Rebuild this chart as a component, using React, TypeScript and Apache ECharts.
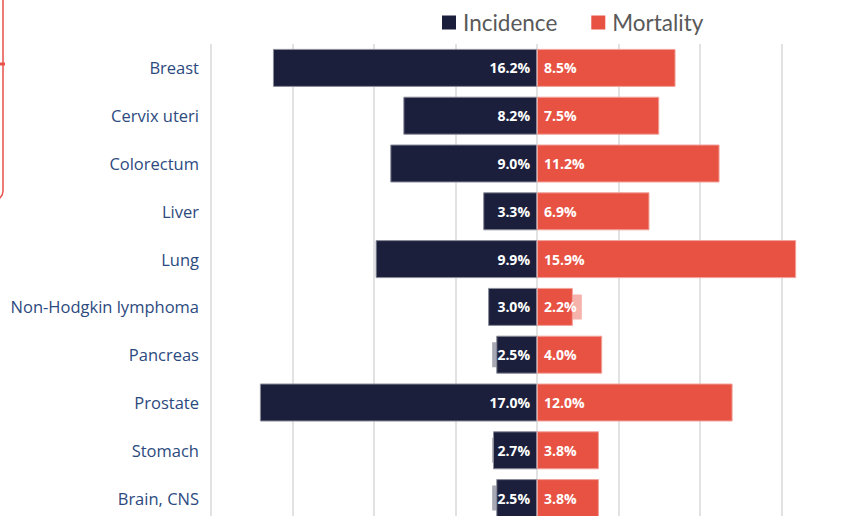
import React, { useEffect, useRef } from "react";
import * as echarts from "echarts";

const categories = [
  "Breast",
  "Cervix uteri",
  "Colorectum",
  "Liver",
  "Lung",
  "Non-Hodgkin lymphoma",
  "Pancreas",
  "Prostate",
  "Stomach",
  "Brain, CNS",
];
const incidence = [16.2, 8.2, 9.0, 3.3, 9.9, 3.0, 2.5, 17.0, 2.7, 2.5];
const mortality = [8.5, 7.5, 11.2, 6.9, 15.9, 2.2, 4.0, 12.0, 3.8, 3.8];
// faint background bars seen behind a few short bars
const ghostIncidence = [null, null, null, null, null, null, 2.75, null, 2.75, 2.75];
const ghostMortality = [null, null, null, null, null, 2.75, null, null, null, null];

const NAVY = "#1B1F3C";
const RED = "#E85243";

export default function App() {
  const ref = useRef<HTMLDivElement>(null);
  useEffect(() => {
    const chart = echarts.init(ref.current!, null, { renderer: "svg" });
    const labelFmt = (p: any) => Math.abs(p.value).toFixed(1) + "%";
    chart.setOption({
      animation: false,
      backgroundColor: "#ffffff",
      legend: {
        top: 6,
        left: 437,
        itemWidth: 14,
        itemHeight: 14,
        itemGap: 34,
        icon: "rect",
        itemStyle: { borderWidth: 0 },
        textStyle: { color: "#595959", fontSize: 22.5, fontFamily: "Lato", padding: [0, 0, 0, 2] },
        data: ["Incidence", "Mortality"],
      },
      grid: { left: 211, right: 17, top: 44, bottom: 8, containLabel: false },
      xAxis: {
        type: "value",
        min: -20,
        max: 20,
        interval: 5,
        axisLabel: { show: false },
        axisLine: { show: false },
        axisTick: { show: false },
        splitLine: { show: true, lineStyle: { color: "#D9D9D9", width: 1.5 } },
      },
      yAxis: [
        {
          type: "category",
          data: categories,
          inverse: true,
          axisLine: { show: false },
          axisTick: { show: false },
          axisLabel: {
            color: "#2C4A7E",
            fontSize: 16.5,
            fontFamily: "Open Sans",
            margin: 12,
          },
        },
        {
          type: "category",
          data: categories,
          inverse: true,
          show: false,
        },
      ],
      series: [
        {
          type: "bar",
          yAxisIndex: 1,
          data: ghostIncidence.map((v) => (v == null ? null : -v)),
          barWidth: 25,
          stack: "ghost",
          itemStyle: { color: "#A6A8B4" },
          silent: true,
          z: 1,
        },
        {
          type: "bar",
          yAxisIndex: 1,
          data: ghostMortality,
          barWidth: 25,
          stack: "ghost",
          itemStyle: { color: "#F5B3AC" },
          silent: true,
          z: 1,
        },
        {
          name: "Incidence",
          type: "bar",
          stack: "total",
          data: incidence.map((v) => -v),
          barWidth: 38,
          itemStyle: { color: NAVY, borderColor: "#8A8C99", borderWidth: 1 },
          label: {
            show: true,
            position: "insideRight",
            distance: 7,
            color: "#ffffff",
            fontWeight: "bold",
            fontSize: 14,
            fontFamily: "Open Sans",
            formatter: labelFmt,
          },
          z: 3,
        },
        {
          name: "Mortality",
          type: "bar",
          stack: "total",
          data: mortality,
          barWidth: 38,
          itemStyle: { color: RED, borderColor: "#F2A29A", borderWidth: 1 },
          label: {
            show: true,
            position: "insideLeft",
            distance: 7,
            color: "#ffffff",
            fontWeight: "bold",
            fontSize: 14,
            fontFamily: "Open Sans",
            formatter: labelFmt,
          },
          z: 3,
        },
      ],
      graphic: [
        {
          type: "rect",
          shape: { x: -300, y: -12, width: 303, height: 212, r: 9 },
          style: { fill: "none", stroke: "#E8524A", lineWidth: 1.5 },
        },
        {
          type: "line",
          shape: { x1: 0, y1: 64, x2: 5, y2: 64 },
          style: { stroke: "#E8524A", lineWidth: 3 },
        },
      ],
    });
    return () => chart.dispose();
  }, []);
  return (
    <div
      ref={ref}
      style={{ position: "fixed", left: 0, top: 0, width: 880, height: 530 }}
    />
  );
}
